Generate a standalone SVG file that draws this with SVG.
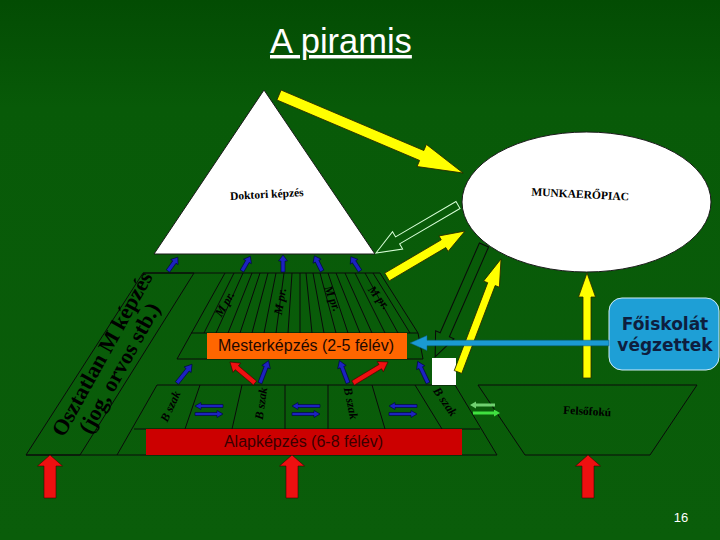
<svg xmlns="http://www.w3.org/2000/svg" xmlns:xlink="http://www.w3.org/1999/xlink" width="720" height="540" viewBox="0 0 720 540">
<defs>
<linearGradient id="bg" x1="0" y1="0" x2="0" y2="1">
<stop offset="0" stop-color="#034c03"/>
<stop offset="0.2" stop-color="#085a08"/>
<stop offset="1" stop-color="#0a5d0a"/>
</linearGradient>
<style>
.ln{fill:none;stroke:#0a0a0a;stroke-width:1}
.yel{fill:#ffff00;stroke:#2a2a00;stroke-width:0.8}
.blue{fill:#1c22c0;stroke:#000040;stroke-width:0.6}
.red{fill:#ee1010;stroke:#400000;stroke-width:0.6}
.ser{font-family:"Liberation Serif","Times New Roman",serif;font-weight:bold;fill:#000}
.lbl{font-family:"Liberation Serif","Times New Roman",serif;font-weight:bold;font-style:italic;font-size:12px;fill:#000;text-anchor:middle}
.sans{font-family:"Liberation Sans",Arial,sans-serif}
</style>
<path id="bs" d="M0,-2 L11,-2 L11,-4.5 L17,0 L11,4.5 L11,2 L0,2Z"/>
<path id="bl" d="M0,-2 L17,-2 L17,-4.5 L24,0 L17,4.5 L17,2 L0,2Z"/>
<g id="dbl">
<path d="M28,-1.5 L6,-1.5 L6,-3.5 L0,0 L6,3.5 L6,1.5 L28,1.5Z"/>
<path d="M0,6.5 L22,6.5 L22,4.5 L28,8 L22,11.5 L22,9.5 L0,9.5Z"/>
</g>
<path id="bigred" d="M-6,43 L-6,11 L-12.5,11 L0,0 L12.5,11 L6,11 L6,43Z"/>
</defs>

<rect width="720" height="540" fill="url(#bg)"/>

<g id="title">
<text x="270" y="53" class="sans" font-size="34.5" fill="#ffffff" text-decoration="underline">A piramis</text>
</g>

<g id="doktori">
<polygon points="264,90 154,254 375,254" fill="#ffffff" stroke="#1a1a1a" stroke-width="1"/>
<text class="ser" font-size="11.5" text-anchor="middle" transform="translate(267,198) rotate(-3)">Doktori képzés</text>
</g>

<g id="munkaeropiac">
<ellipse cx="586.5" cy="202" rx="124.5" ry="70" fill="#ffffff" stroke="#1a1a1a" stroke-width="1"/>
<text class="ser" font-size="11.5" text-anchor="middle" transform="translate(580,198) rotate(3)">MUNKAERŐPIAC</text>
</g>

<g id="osztatlan">
<polygon class="ln" points="143,273 194,273 80,455 26,455"/>
<g transform="translate(104,355) rotate(-61)">
<text class="ser" font-size="22" text-anchor="middle" x="0" y="5">Osztatlan M képzés</text>
<text class="ser" font-size="22" text-anchor="middle" x="-4" y="27">(jog, orvos stb.)</text>
</g>
</g>

<g id="mester">
<line class="ln" x1="143" y1="273" x2="380" y2="273"/>
<polyline class="ln" points="380,273 418,333 423,359 177,359 225,273"/>
<line class="ln" x1="191" y1="333" x2="418" y2="333"/>
<path class="ln" d="M234,273 L204,333 M243,273 L216,333 M252,273 L228,333 M260,273 L240,333 M268,273 L252,333 M276,273 L264,333 M284,273 L276,333 M292,273 L288,333 M300,273 L300,333 M306,273 L312,333 M313,273 L324,333 M320,273 L336,333 M328,273 L348,333 M336,273 L360,333 M345,273 L372,333 M355,273 L385,333 M365,273 L398,333 M373,273 L410,333"/>
<text class="lbl" transform="translate(228,306) rotate(-60)">M pr.</text>
<text class="lbl" transform="translate(284,302) rotate(-80)">M pr.</text>
<text class="lbl" transform="translate(329,300) rotate(68)">M pr.</text>
<text class="lbl" transform="translate(376,300) rotate(51)">M pr.</text>
<rect x="207" y="333" width="200" height="26" fill="#ff6600"/>
<text class="sans" x="306" y="351" font-size="16" fill="#1e0800" text-anchor="middle">Mesterképzés (2-5 félév)</text>
</g>

<g id="alap">
<polygon class="ln" points="157,385 455,385 497,455 117,455"/>
<line class="ln" x1="134" y1="429" x2="480" y2="429"/>
<path class="ln" d="M200,385 L185,429 M242,385 L232,429 M285,385 L285,429 M328,385 L328,429 M372,385 L385,429 M415,385 L442,429"/>
<line class="ln" x1="26" y1="455" x2="117" y2="455"/>
<text class="lbl" font-size="12.5" transform="translate(174,408) rotate(-65)">B szak</text>
<text class="lbl" font-size="12.5" transform="translate(265,404) rotate(-82)">B szak</text>
<text class="lbl" font-size="12.5" transform="translate(347,404) rotate(78)">B szak</text>
<text class="lbl" font-size="12.5" transform="translate(442,404) rotate(55)">B szak</text>
<use href="#dbl" class="blue" transform="translate(195,406)"/>
<use href="#dbl" class="blue" transform="translate(292,406)"/>
<use href="#dbl" class="blue" transform="translate(389,406)"/>
<rect x="146" y="429" width="316" height="26" fill="#cc0000"/>
<text class="sans" x="303.5" y="447" font-size="16" fill="#3a0000" text-anchor="middle">Alapképzés (6-8 félév)</text>
</g>

<g id="felsofoku">
<polygon class="ln" points="478,385 697,385 650,455 525,455"/>
<text class="ser" font-size="11.5" text-anchor="middle" transform="translate(587,415) rotate(3)">Felsőfokú</text>
</g>

<g id="foiskolat">
<rect x="609" y="298" width="110" height="72" rx="13" ry="13" fill="#1e9fd6" stroke="#d0ecf8" stroke-width="1"/>
<text x="665" y="330" font-family="'DejaVu Sans',Verdana,sans-serif" font-weight="bold" font-size="17" fill="#0e1e3e" text-anchor="middle">Főiskolát</text>
<text x="665" y="351" font-family="'DejaVu Sans',Verdana,sans-serif" font-weight="bold" font-size="17" fill="#0e1e3e" text-anchor="middle">végzettek</text>
</g>

<g id="whitebox">
<rect x="432" y="358" width="24" height="27" fill="#ffffff"/>
</g>

<g id="connectors">
<path class="yel" d="M0,-5.4 L155,-5.4 L155,-12 L200,0 L155,12 L155,5.4 L0,5.4Z" transform="translate(279,95) rotate(22.97)"/>
<path fill="none" stroke="#d8ffd8" stroke-width="1" d="M0,-4 L70,-4 L70,-10 L95,0 L70,10 L70,4 L0,4Z" transform="translate(458,205) rotate(149.65)"/>
<path class="yel" d="M0,-4.5 L65.6,-4.5 L65.6,-9 L90.6,0 L65.6,9 L65.6,4.5 L0,4.5Z" transform="translate(387,277) rotate(-30.5)"/>
<path fill="none" stroke="#0a0a0a" stroke-width="1" d="M0,-5 L98,-5 L98,-10 L122,0 L98,10 L98,5 L0,5Z" transform="translate(484,245) rotate(113.6)"/>
<path class="yel" d="M0,-4 L94,-4 L94,-8.5 L121,0 L94,8.5 L94,4 L0,4Z" transform="translate(458,372) rotate(-69.16)"/>
<path class="yel" d="M583,378 L583,297 L578.5,297 L587,273 L595.5,297 L591,297 L591,378Z"/>
<path fill="#1a9ad2" stroke="#0c5a80" stroke-width="0.5" d="M0,-2.8 L182,-2.8 L182,-7.5 L199,0 L182,7.5 L182,2.8 L0,2.8Z" transform="translate(609,343) rotate(180)"/>
<use href="#bs" class="blue" transform="translate(168,271) rotate(-54.5)"/>
<use href="#bs" class="blue" transform="translate(242,271) rotate(-60.3)"/>
<use href="#bs" class="blue" transform="translate(283,272) rotate(-90)"/>
<use href="#bs" class="blue" transform="translate(322,271) rotate(-116.6)"/>
<use href="#bs" class="blue" transform="translate(360,271) rotate(-122.7)"/>
<use href="#bl" class="blue" transform="translate(177,383) rotate(-51.3)"/>
<use href="#bl" class="blue" transform="translate(260,383) rotate(-69.1)"/>
<use href="#bl" class="blue" transform="translate(348,383) rotate(-110.9)"/>
<use href="#bl" class="blue" transform="translate(428,383) rotate(-115.5)"/>
<path class="red" d="M0,-2.5 L23.7,-2.5 L23.7,-6 L32.7,0 L23.7,6 L23.7,2.5 L0,2.5Z" transform="translate(255,383) rotate(-140)"/>
<path class="red" d="M0,-2.5 L31.8,-2.5 L31.8,-6 L40.8,0 L31.8,6 L31.8,2.5 L0,2.5Z" transform="translate(353,383) rotate(-31)"/>
<path fill="#70d070" d="M495,403.5 L476,403.5 L476,401.5 L470,405 L476,408.5 L476,406.5 L495,406.5Z"/>
<path fill="#40e040" d="M473,411.5 L494,411.5 L494,409.5 L500,413 L494,416.5 L494,414.5 L473,414.5Z"/>
<use href="#bigred" class="red" transform="translate(50,455)"/>
<use href="#bigred" class="red" transform="translate(292,455)"/>
<use href="#bigred" class="red" transform="translate(588,455)"/>
</g>

<text x="681" y="522" class="sans" font-size="13" fill="#ffffff" text-anchor="middle">16</text>
</svg>
